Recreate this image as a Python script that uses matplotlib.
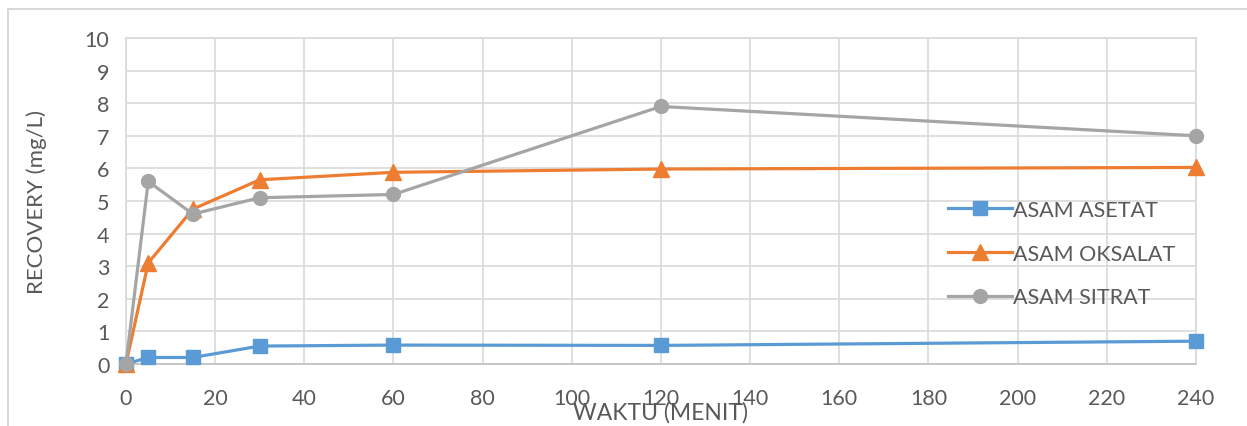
import matplotlib
matplotlib.use('Agg')
import matplotlib.pyplot as plt
from matplotlib.patches import Rectangle

# data
waktu = [0, 5, 15, 30, 60, 120, 240]
asam_asetat = [0.0, 0.2, 0.2, 0.55, 0.58, 0.57, 0.7]
asam_oksalat = [0.0, 3.1, 4.75, 5.65, 5.88, 5.98, 6.03]
asam_sitrat = [0.0, 5.6, 4.6, 5.1, 5.2, 7.9, 7.0]

plt.rcParams['font.family'] = ['Lato', 'DejaVu Sans']
txt_color = '#595959'
grid_color = '#d9d9d9'

fig = plt.figure(figsize=(12.47, 4.27), dpi=100)
ax = fig.add_axes([0.101, 0.1452, 0.858, 0.7635])

# chart border (only top and left visible in the crop)
fig.patches.append(Rectangle((8 / 1247, -0.05), 1.1, 1 - 10 / 427 + 0.05,
                             transform=fig.transFigure, fill=False,
                             edgecolor='#d9d9d9', linewidth=1.5))

ax.plot(waktu, asam_asetat, color='#5B9BD5', lw=2.3, marker='s', ms=10,
        label='ASAM ASETAT', clip_on=False, zorder=3)
ax.plot(waktu, asam_oksalat, color='#ED7D31', lw=2.3, marker='^', ms=11,
        label='ASAM OKSALAT', clip_on=False, zorder=3)
ax.plot(waktu, asam_sitrat, color='#A5A5A5', lw=2.3, marker='o', ms=10,
        label='ASAM SITRAT', clip_on=False, zorder=3)

ax.set_xlim(0, 240)
ax.set_ylim(0, 10)
ax.set_xticks(range(0, 241, 20))
ax.set_yticks(range(0, 11))
ax.grid(True, color=grid_color, lw=1.2)
ax.set_axisbelow(True)
for s in ax.spines.values():
    s.set_color(grid_color)
    s.set_linewidth(1.2)
ax.spines['bottom'].set_color('#bfbfbf')
ax.tick_params(length=0, labelsize=15.5, colors=txt_color)
ax.tick_params(axis='x', pad=17)
ax.tick_params(axis='y', pad=12)

ax.set_ylabel('RECOVERY (mg/L)', fontsize=16, color=txt_color, labelpad=27)
ax.set_xlabel('WAKTU (MENIT)', fontsize=16.5, color=txt_color, labelpad=-5)

leg = ax.legend(loc='upper left', bbox_to_anchor=(0.76, 0.53), frameon=False,
                fontsize=15.5, labelspacing=1.1, handlelength=3.0,
                handletextpad=0.05, borderaxespad=0)
for t in leg.get_texts():
    t.set_color(txt_color)

fig.savefig('out.png', dpi=100)
